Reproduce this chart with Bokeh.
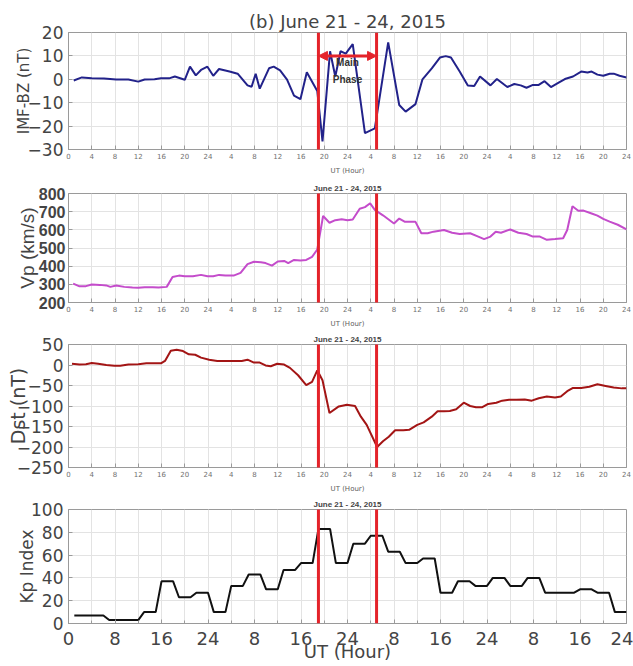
from bokeh.plotting import figure
from bokeh.layouts import column
from bokeh.models import FixedTicker, Arrow, NormalHead, Label, Range1d
from bokeh.embed import file_html
from bokeh.resources import INLINE

# ---------------- data ----------------
bz_hour = [0.9, 2.3, 4, 6.1, 8.2, 10.3, 12, 13.1, 14.8, 15.9, 17.3, 18.3, 20, 20.9, 21.9, 22.8,
           23.9, 24.9, 25.9, 27.7, 29.1, 30.8, 31.5, 32.2, 32.9, 34.5, 35.3, 36.4, 37.6, 38.8,
           39.9, 41, 42.8, 43.7, 45, 45.9, 46.8, 47.7, 48.9, 51, 52.7, 55, 56.9, 58, 59.7, 60.9,
           62.5, 63.9, 64.9, 65.8, 67.3, 68.7, 69.8, 70.8, 72.6, 73.7, 75.5, 76.7, 77.8, 78.8,
           79.9, 80.9, 81.9, 83, 84.4, 85.4, 86.8, 88.2, 89.3, 90, 91, 92, 93.1, 93.8, 94.8, 96]
bz_value = [-0.5, 0.8, 0.4, 0.3, -0.1, -0.1, -1, -0.1, 0, 0.4, 0.4, 1.2, -0.2, 5.4, 1.7, 4,
            5.4, 1.5, 4.4, 3.3, 2.4, -2.6, -3.2, 2.4, -4, 4.7, 5.4, 3.8, -0.1, -7,
            -8.5, 3, -5, -26.5, 12, 1.2, 12, 11, 15, -23, -21, 15.8, -11, -13.8, -10.6, 0,
            4.7, 9.3, 9.9, 9.3, 3.3, -2.6, -2.9, 1.2, -2.6, 0.1, -3.3, -2, -2.6, -3.6,
            -2.4, -2.4, -0.8, -3.3, -1.3, 0.1, 1.2, 3.3, 2.9, 3.3, 2, 1.5, 2.4, 2.4, 1.5, 0.8]

vp_hour = [0.8, 1.9, 3, 4, 5.4, 6.5, 7.2, 8.2, 9.6, 11, 12, 13.1, 14.5, 15.5, 16.9, 17.9, 19,
           20, 21.4, 22.8, 23.9, 24.9, 25.9, 27, 28.4, 29.6, 30.8, 31.9, 33.1, 33.9, 35, 36,
           37.1, 37.8, 38.8, 39.9, 40.9, 41.9, 42.8, 43.8, 44.9, 45.9, 47, 48, 48.9, 50.1, 51,
           51.9, 52.7, 54.1, 56, 56.9, 57.9, 59.7, 60.7, 61.8, 62.8, 64.6, 66, 67.3, 69.1, 70.5,
           71.5, 72.6, 73.5, 74.4, 76, 77.4, 78.8, 79.9, 81.1, 82.3, 83.7, 85.1, 85.8, 86.7,
           87.7, 88.6, 90, 91, 92, 93.1, 94.5, 96]
vp_value = [304, 289, 290, 299, 297, 294, 286, 294, 286, 282, 281, 284, 284, 282, 286, 340, 348,
            345, 345, 352, 344, 344, 352, 348, 348, 363, 411, 424, 421, 417, 403, 426,
            429, 417, 434, 431, 434, 451, 492, 676, 639, 653, 658, 653, 657, 716, 725,
            746, 710, 680, 635, 662, 644, 644, 581, 581, 590, 599, 584, 577, 581, 563,
            549, 563, 590, 584, 602, 584, 577, 563, 563, 545, 549, 554, 599, 730,
            705, 706, 690, 678, 660, 645, 628, 602]

dst_hour = [0.6, 1.9, 3, 4, 5.1, 6.5, 7.9, 8.9, 10.3, 12, 13.4, 14.8, 15.9, 16.6, 17.6, 18.6,
            19.7, 20.7, 21.8, 22.8, 24.2, 25.6, 27, 28.4, 29.8, 30.8, 31.9, 32.9, 33.9, 34.8,
            35.9, 37.1, 38.1, 39.5, 40.9, 41.9, 42.8, 43.7, 44.9, 46.5, 47.9, 49.3, 50.3, 51.3,
            53.1, 54.1, 55.1, 56.2, 57.6, 58.6, 60, 61.1, 62.5, 63.5, 64.6, 65.6, 66.7, 68,
            69.1, 70.1, 71.2, 72.2, 73.6, 74.6, 75.8, 77.1, 78.5, 79.7, 80.9, 82.3, 83.7, 84.7,
            85.8, 86.8, 88.2, 89.6, 91, 92.4, 93.8, 95.2, 96]
dst_value = [3, 1, 2, 5, 3, 0, -2, -2, 1, 2, 4, 4, 4, 10, 35, 37,
             34, 26, 25, 18, 13, 10, 10, 10, 10, 13, 6, 6, -1, -3,
             3, 1, -7, -25, -49, -41, -13, -37, -117, -101, -97, -100, -126, -146,
             -200, -186, -175, -159, -159, -158, -146, -140, -126, -113, -113, -112, -108, -92,
             -100, -103, -103, -95, -92, -87, -85, -85, -84, -87, -81, -77, -79, -77,
             -64, -56, -56, -53, -47, -51, -55, -57, -57]

# Kp index (x10), one value per 3-hour interval, June 21 00 UT -> June 24 24 UT
kp_value = [7, 7, 3, 3, 10, 37, 23, 27, 10, 33, 43, 30, 47, 53, 83, 53,
            70, 77, 63, 53, 57, 27, 37, 33, 40, 33, 40, 27, 27, 30, 27, 10]

main_phase_start = 43   # UT hour (June 22, 19 UT)
main_phase_end = 53     # UT hour (June 23, 05 UT)

x_ticks_4h = [0, 4, 8, 12, 16, 20, 24, 28, 32, 36, 40, 44, 48, 52, 56, 60, 64, 68, 72,
              76, 80, 84, 88, 92, 96]
x_labels_4h = ["0", "4", "8", "12", "16", "20", "24", "4", "8", "12", "16", "20", "24",
               "4", "8", "12", "16", "20", "24", "4", "8", "12", "16", "20", "24"]
x_ticks_8h = [0, 8, 16, 24, 32, 40, 48, 56, 64, 72, 80, 88, 96]
x_labels_8h = ["0", "8", "16", "24", "8", "16", "24", "8", "16", "24", "8", "16", "24"]

bz_ticks = [-30, -20, -10, 0, 10, 20]
vp_ticks = [200, 300, 400, 500, 600, 700, 800]
dst_ticks = [-250, -200, -150, -100, -50, 0, 50]
kp_ticks = [0, 20, 40, 60, 80, 100]

# ---------------- style ----------------
RED = "#e4232a"
GRID = "#e3e3e3"
FRAME = "#9a9a9a"
SUB_TITLE = "June 21 - 24, 2015"
FONT = "DejaVu Sans"


def make_fig(height, top, bottom, yr, yticks, xticks, xlabels, minor=None):
    p = figure(width=633, height=height, output_backend="svg", toolbar_location=None,
               x_range=Range1d(0, 96), y_range=Range1d(*yr),
               min_border_left=68, min_border_right=7,
               min_border_top=top, min_border_bottom=bottom)
    p.outline_line_color = FRAME
    p.background_fill_color = "white"
    p.border_fill_color = "white"
    xa = p.xaxis[0]
    xa.ticker = FixedTicker(ticks=xticks, minor_ticks=minor or [])
    xa.major_label_overrides = {t: l for t, l in zip(xticks, xlabels)}
    ya = p.yaxis[0]
    ya.ticker = FixedTicker(ticks=yticks)
    for ax in (xa, ya):
        ax.axis_line_color = FRAME
        ax.major_tick_in = 4
        ax.major_tick_out = 0
        ax.major_tick_line_color = FRAME
        ax.minor_tick_in = 3
        ax.minor_tick_out = 0
        ax.minor_tick_line_color = FRAME if minor else None
        ax.axis_label_text_font_style = "normal"
        ax.axis_label_text_font = FONT
        ax.major_label_text_font = FONT
    p.xgrid.grid_line_color = GRID
    p.ygrid.grid_line_color = GRID
    if minor:
        p.xgrid.minor_grid_line_color = GRID
    return p


def small_x(p):
    xa = p.xaxis[0]
    xa.axis_label = "UT (Hour)"
    xa.major_label_text_font_size = "7px"
    xa.major_label_text_color = "#707070"
    xa.axis_label_text_font_size = "7px"
    xa.axis_label_text_color = "#606060"
    xa.major_label_standoff = 3
    xa.axis_label_standoff = 5


def small_title(p):
    p.title.text = SUB_TITLE
    p.title.align = "center"
    p.title.text_font_size = "8px"
    p.title.text_font_style = "bold"
    p.title.text_font = "Liberation Sans"
    p.title.standoff = 2


def red_lines(p, y0, y1):
    for xv in (main_phase_start, main_phase_end):
        p.add_layout(Arrow(end=None, x_start=xv, y_start=y0, x_end=xv, y_end=y1,
                           line_color=RED, line_width=3))


# ---- panel 1: IMF-BZ ----
p1 = make_fig(177, 32, 25, (-30, 20), bz_ticks, x_ticks_4h, x_labels_4h)
p1.title.text = "(b) June 21 - 24, 2015"
p1.title.align = "center"
p1.title.text_font_size = "18px"
p1.title.text_font_style = "normal"
p1.title.text_font = FONT
p1.title.standoff = 1
small_x(p1)
ya = p1.yaxis[0]
ya.axis_label = "IMF-BZ (nT)"
ya.axis_label_text_font_size = "15px"
ya.major_label_text_font_size = "17px"
ya.major_label_standoff = 5
ya.axis_label_standoff = -8
p1.line(bz_hour, bz_value, line_color="#22228a", line_width=2)
red_lines(p1, 20, -2000)
p1.add_layout(Arrow(start=NormalHead(size=9, fill_color=RED, line_color=RED),
                    end=NormalHead(size=9, fill_color=RED, line_color=RED),
                    x_start=main_phase_start, y_start=10, x_end=main_phase_end, y_end=10,
                    line_color=RED, line_width=3))
for txt, yv in (("Main", 7), ("Phase", 0)):
    p1.add_layout(Label(x=(main_phase_start + main_phase_end) / 2, y=yv, text=txt,
                        text_align="center", text_baseline="middle",
                        text_font_size="10px", text_font="Liberation Sans",
                        text_font_style="bold", text_color="#333333"))

# ---- panel 2: Vp ----
p2 = make_fig(153, 16, 26, (200, 800), vp_ticks, x_ticks_4h, x_labels_4h)
small_title(p2)
small_x(p2)
ya = p2.yaxis[0]
ya.axis_label = "Vp (km/s)"
ya.axis_label_text_font = "Liberation Sans"
ya.axis_label_text_font_size = "19px"
ya.major_label_text_font = "Liberation Sans"
ya.major_label_text_font_style = "bold"
ya.major_label_text_font_size = "16px"
ya.major_label_standoff = 3
ya.axis_label_standoff = -2
p2.line(vp_hour, vp_value, line_color="#c44ccb", line_width=2)
red_lines(p2, -20000, 20000)

# ---- panel 3: Dst ----
p3 = make_fig(166, 14, 29, (-250, 50), dst_ticks, x_ticks_4h, x_labels_4h)
small_title(p3)
small_x(p3)
ya = p3.yaxis[0]
ya.axis_label = "Dst (nT)"
ya.axis_label_text_font_size = "19px"
ya.major_label_text_font_size = "17px"
ya.major_label_standoff = 5
ya.axis_label_standoff = -15
p3.line(dst_hour, dst_value, line_color="#a31515", line_width=2)
red_lines(p3, -20000, 20000)

# ---- panel 4: Kp ----
p4 = make_fig(169, 13, 42, (0, 100), kp_ticks, x_ticks_8h, x_labels_8h, minor=x_ticks_4h)
small_title(p4)
xa = p4.xaxis[0]
xa.axis_label = "UT (Hour)"
xa.axis_label_text_font_size = "18px"
xa.major_label_text_font_size = "18px"
xa.major_label_standoff = 8
xa.axis_label_standoff = -7
ya = p4.yaxis[0]
ya.axis_label = "Kp Index"
ya.axis_label_text_font_size = "17px"
ya.major_label_text_font_size = "17px"
ya.major_label_standoff = 5
ya.axis_label_standoff = -9
kp_x, kp_y = [], []
for i, v in enumerate(kp_value):
    kp_x += [3 * i + 1, 3 * i + 3]
    kp_y += [v, v]
p4.line(kp_x, kp_y, line_color="#111111", line_width=2)
red_lines(p4, 0, 20000)

layout = column(p1, p2, p3, p4, spacing=0)
open("out.html", "w").write(file_html(layout, INLINE))
